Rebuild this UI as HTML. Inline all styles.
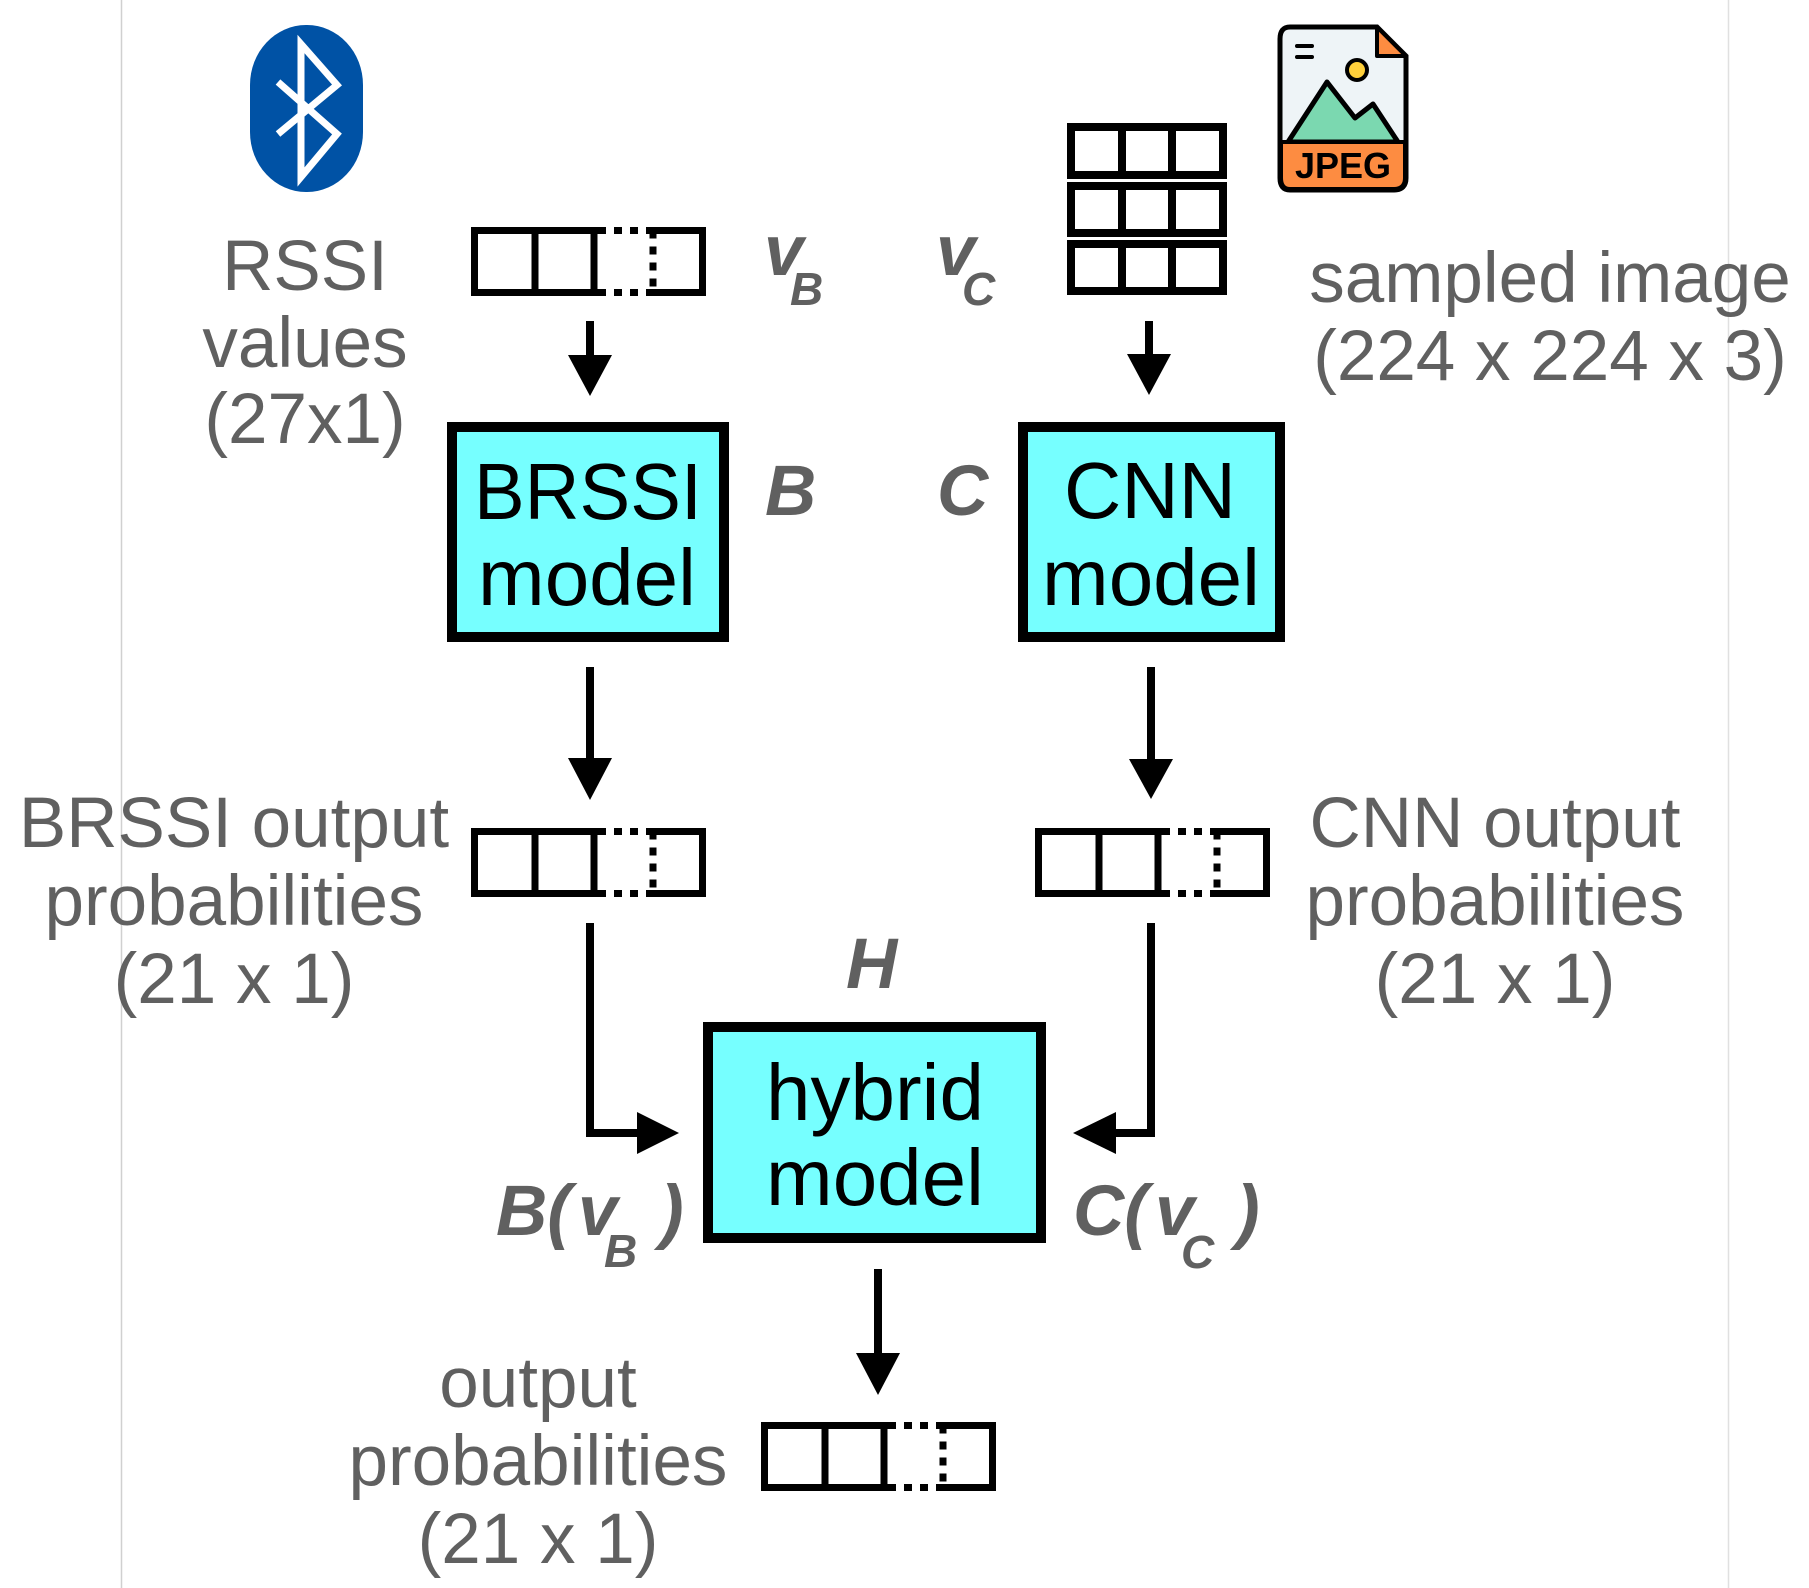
<!DOCTYPE html>
<html><head><meta charset="utf-8"><style>
html,body{margin:0;padding:0;background:#fff;}
svg{display:block;}
text{font-family:"Liberation Sans",Arial,sans-serif;}
.g{fill:#606060;font-size:71px;text-anchor:middle;}
.bi{fill:#606060;font-weight:bold;font-style:italic;}
.bx{fill:#000;font-size:80px;text-anchor:middle;}
</style></head><body>
<svg width="1809" height="1588" viewBox="0 0 1809 1588" xmlns="http://www.w3.org/2000/svg">
<defs>
<g id="vec" fill="none" stroke="#000" stroke-width="7">
<path d="M127,3.5 H3.5 V65.5 H127 M175,3.5 H231.5 V65.5 H175 M64,0 V69 M123,0 V69"/>
<path d="M127,3.5 H175 M127,65.5 H175 M182,3.5 V65.5" stroke-dasharray="8 8"/>
</g>
</defs>
<line x1="121.5" y1="0" x2="121.5" y2="1588" stroke="#d0d0d0" stroke-width="1.5"/>
<line x1="1728.5" y1="0" x2="1728.5" y2="1588" stroke="#e0e0e0" stroke-width="1.5"/>

<rect x="250" y="25" width="113" height="167" rx="56" ry="60" fill="#0052a5"/>
<path d="M278,82 L337,134 L301,177 V44 L337,85 L278,134" fill="none" stroke="#fff" stroke-width="7" stroke-linejoin="miter"/>

<path d="M1290,27 H1377 L1406,56 V178 Q1406,190 1394,190 H1290 Q1280,190 1280,178 V39 Q1280,27 1290,27 Z" fill="#eef4f7" stroke="#000" stroke-width="5"/>
<path d="M1377,27 V56 H1406 Z" fill="#fd8c41" stroke="#000" stroke-width="4" stroke-linejoin="round"/>
<path d="M1288,142 L1327,82 L1355,118 L1373,104 L1398,142 Z" fill="#7bd8b0" stroke="#000" stroke-width="5" stroke-linejoin="round"/>
<circle cx="1357" cy="70" r="10" fill="#ffd03b" stroke="#000" stroke-width="4"/>
<path d="M1297,46 H1312 M1297,57 H1312" stroke="#000" stroke-width="4" stroke-linecap="round"/>
<path d="M1281,142 H1405 V178 Q1405,189 1394,189 H1290 Q1281,189 1281,178 Z" fill="#fd8c41" stroke="#000" stroke-width="4"/>
<text x="1343" y="178" font-size="36" font-weight="bold" text-anchor="middle" fill="#000">JPEG</text>

<g fill="none" stroke="#000" stroke-width="8">
<rect x="1071" y="127" width="152" height="48"/>
<rect x="1071" y="186" width="152" height="47"/>
<rect x="1071" y="244" width="152" height="47"/>
<path d="M1122,123 V179 M1172,123 V179 M1122,182 V237 M1172,182 V237 M1122,240 V295 M1172,240 V295"/>
</g>

<use href="#vec" x="471" y="227"/>
<use href="#vec" x="471" y="828"/>
<use href="#vec" x="1035" y="828"/>
<use href="#vec" x="761" y="1422"/>

<g stroke="#000" stroke-width="8" fill="none">
<path d="M590,321 V358 M1149,321 V357 M590,667 V761 M1151,667 V762 M878,1269 V1356"/>
<path d="M590,923 V1133 H640 M1151,923 V1133 H1113"/>
</g>
<g fill="#000">
<polygon points="568,355 612,355 590,396"/>
<polygon points="1127,354 1171,354 1149,395"/>
<polygon points="568,758 612,758 590,800"/>
<polygon points="1129,759 1173,759 1151,799"/>
<polygon points="856,1353 900,1353 878,1395"/>
<polygon points="637,1112 637,1154 679,1133"/>
<polygon points="1116,1112 1116,1154 1073,1133"/>
</g>

<g fill="#76ffff" stroke="#000" stroke-width="10">
<rect x="452" y="427" width="272" height="210"/>
<rect x="1023" y="427" width="257" height="210"/>
<rect x="708" y="1027" width="333" height="211"/>
</g>
<text class="bx" x="588" y="519" textLength="228" lengthAdjust="spacingAndGlyphs">BRSSI</text>
<text class="bx" x="587" y="605">model</text>
<text class="bx" x="1150" y="518" textLength="172" lengthAdjust="spacingAndGlyphs">CNN</text>
<text class="bx" x="1151" y="605">model</text>
<text class="bx" x="875" y="1120">hybrid</text>
<text class="bx" x="875" y="1205">model</text>

<text class="g" x="305" y="290">RSSI</text>
<text class="g" x="305" y="367">values</text>
<text class="g" x="305" y="443">(27x1)</text>
<text class="g" x="1550" y="302">sampled image</text>
<text class="g" x="1550" y="380">(224 x 224 x 3)</text>
<text class="g" x="234" y="847">BRSSI output</text>
<text class="g" x="234" y="925">probabilities</text>
<text class="g" x="234" y="1003">(21 x 1)</text>
<text class="g" x="1495" y="847">CNN output</text>
<text class="g" x="1495" y="925">probabilities</text>
<text class="g" x="1495" y="1003">(21 x 1)</text>
<text class="g" x="538" y="1407">output</text>
<text class="g" x="538" y="1485">probabilities</text>
<text class="g" x="538" y="1563">(21 x 1)</text>

<text class="bi" x="764" y="275" font-size="71">v</text>
<text class="bi" x="790" y="305" font-size="46">B</text>
<text class="bi" x="936" y="275" font-size="71">v</text>
<text class="bi" x="962" y="305" font-size="46">C</text>
<text class="bi" x="765" y="515" font-size="71">B</text>
<text class="bi" x="937" y="515" font-size="71">C</text>
<text class="bi" x="846" y="988" font-size="71">H</text>
<text class="bi" x="496" y="1235" font-size="71">B(</text>
<text class="bi" x="578" y="1235" font-size="71">v</text>
<text class="bi" x="604" y="1267" font-size="46">B</text>
<text class="bi" x="660" y="1235" font-size="71">)</text>
<text class="bi" x="1073" y="1235" font-size="71">C(</text>
<text class="bi" x="1155" y="1235" font-size="71">v</text>
<text class="bi" x="1181" y="1268" font-size="46">C</text>
<text class="bi" x="1236" y="1235" font-size="71">)</text>
</svg>
</body></html>
